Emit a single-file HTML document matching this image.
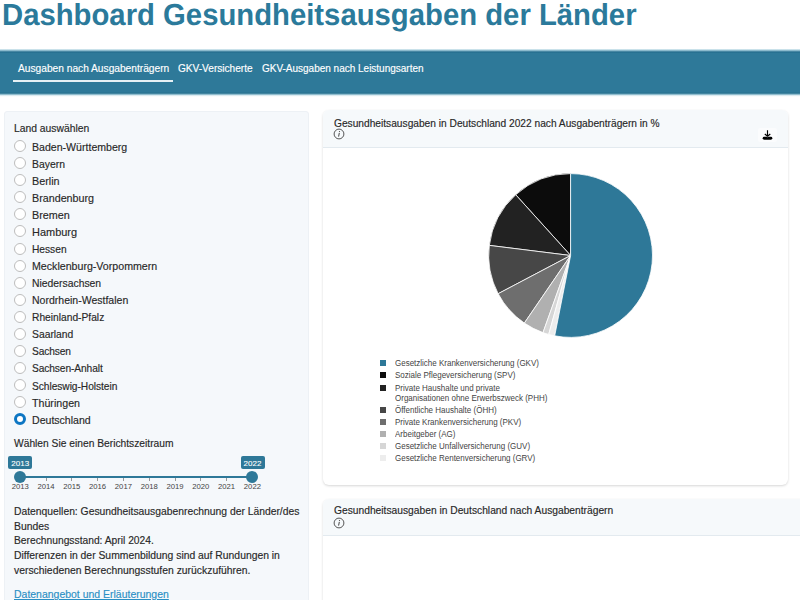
<!DOCTYPE html>
<html><head><meta charset="utf-8">
<style>
*{box-sizing:border-box;margin:0;padding:0}
html,body{width:800px;height:600px;overflow:hidden;background:#fff;font-family:"Liberation Sans",sans-serif;color:#222}
.abs{position:absolute;white-space:nowrap}
#title{left:2.3px;top:-1.4px;font-size:30.5px;font-weight:bold;color:#2b7a9b;line-height:32px;text-rendering:geometricPrecision;transform:scaleX(0.96);transform-origin:0 0}
#nav{position:absolute;left:0;top:49px;width:800px;height:48px;background:linear-gradient(to bottom,#eaf4f7 0px,#a9cfdd 1px,#6fa6bd 2px,#21698a 3px,#2e7999 4px,#2e7999 43px,#28718f 44px,#5f9bb3 45px,#c3dfe9 46px,#f4f7f8 47px,#fff 48px)}
.navi{position:absolute;top:13px;font-size:10px;color:#fff;line-height:14px;-webkit-text-stroke:0.15px #fff}
#uline{position:absolute;left:12.5px;top:31.3px;width:160.5px;height:2px;background:#e6f1f5}
#side{position:absolute;left:4px;top:111px;width:305px;height:520px;background:#f5f8fb;border:1px solid #edf1f5;border-radius:3px}
.t{position:absolute;font-size:10.2px;line-height:17px;white-space:nowrap;color:#282828;-webkit-text-stroke:0.15px #282828}
.radio{position:absolute;left:14px;width:12px;height:12px;border-radius:50%;border:1px solid #bdbdbd;background:#fff}
.radio.sel{border:3.3px solid #0d76c3;background:#fff}
.card{position:absolute;background:#fff;border-radius:6px;box-shadow:0 1px 2.5px rgba(0,0,0,0.16)}
.chead{position:absolute;left:0;top:0;right:0;background:#f6f9fb;border-bottom:1px solid #e3eaef;border-radius:6px 6px 0 0}
.info{position:absolute;width:10px;height:10px;border:1px solid #555;border-radius:50%;font-size:7px;font-style:italic;text-align:center;line-height:8px;color:#444}
.leg{position:absolute;font-size:9.2px;color:#444;line-height:10px;white-space:nowrap;transform:scale(0.87,1);transform-origin:0 0}
.sq{position:absolute;width:6px;height:6px}
.tick{position:absolute;top:483px;font-size:7.7px;color:#444;line-height:8px;width:30px;text-align:center}
</style></head><body>
<div id="title" class="abs">Dashboard Gesundheitsausgaben der Länder</div>
<div id="nav">
 <div class="navi" style="left:18px;font-size:10.2px;top:12.8px">Ausgaben nach Ausgabenträgern</div>
 <div class="navi" style="left:178px;font-size:10.1px">GKV-Versicherte</div>
 <div class="navi" style="left:262px;font-size:9.99px">GKV-Ausgaben nach Leistungsarten</div>
 <div id="uline"></div>
</div>

<div id="side"></div>
<div class="t" style="left:14px;top:120.3px;font-size:10.34px">Land auswählen</div>
<div class="radio" style="top:140.20px"></div><div class="t" style="left:32px;top:138.80px;font-size:10.59px;letter-spacing:0.000px">Baden-Württemberg</div><div class="radio" style="top:157.25px"></div><div class="t" style="left:32px;top:155.85px;font-size:10.40px;letter-spacing:0.000px">Bayern</div><div class="radio" style="top:174.30px"></div><div class="t" style="left:32px;top:172.90px;font-size:10.78px;letter-spacing:0.000px">Berlin</div><div class="radio" style="top:191.35px"></div><div class="t" style="left:32px;top:189.95px;font-size:10.74px;letter-spacing:0.000px">Brandenburg</div><div class="radio" style="top:208.40px"></div><div class="t" style="left:32px;top:207.00px;font-size:10.81px;letter-spacing:0.000px">Bremen</div><div class="radio" style="top:225.45px"></div><div class="t" style="left:32px;top:224.05px;font-size:10.97px;letter-spacing:0.000px">Hamburg</div><div class="radio" style="top:242.50px"></div><div class="t" style="left:32px;top:241.10px;font-size:10.20px;letter-spacing:0.000px">Hessen</div><div class="radio" style="top:259.55px"></div><div class="t" style="left:32px;top:258.15px;font-size:10.63px;letter-spacing:0.000px">Mecklenburg-Vorpommern</div><div class="radio" style="top:276.60px"></div><div class="t" style="left:32px;top:275.20px;font-size:10.36px;letter-spacing:0.000px">Niedersachsen</div><div class="radio" style="top:293.65px"></div><div class="t" style="left:32px;top:292.25px;font-size:10.53px;letter-spacing:0.000px">Nordrhein-Westfalen</div><div class="radio" style="top:310.70px"></div><div class="t" style="left:32px;top:309.30px;font-size:10.24px;letter-spacing:0.000px">Rheinland-Pfalz</div><div class="radio" style="top:327.75px"></div><div class="t" style="left:32px;top:326.35px;font-size:10.33px;letter-spacing:0.000px">Saarland</div><div class="radio" style="top:344.80px"></div><div class="t" style="left:32px;top:343.40px;font-size:10.20px;letter-spacing:-0.133px">Sachsen</div><div class="radio" style="top:361.85px"></div><div class="t" style="left:32px;top:360.45px;font-size:10.20px;letter-spacing:-0.092px">Sachsen-Anhalt</div><div class="radio" style="top:378.90px"></div><div class="t" style="left:32px;top:377.50px;font-size:10.20px;letter-spacing:-0.041px">Schleswig-Holstein</div><div class="radio" style="top:395.95px"></div><div class="t" style="left:32px;top:394.55px;font-size:10.67px;letter-spacing:0.000px">Thüringen</div><div class="radio sel" style="top:413.00px"></div><div class="t" style="left:32px;top:411.60px;font-size:10.57px;letter-spacing:0.000px">Deutschland</div>

<div class="t" style="left:14px;top:435px;font-size:10.26px">Wählen Sie einen Berichtszeitraum</div>

<!-- slider -->
<div style="position:absolute;left:8.2px;top:455.5px;width:24px;height:13.2px;background:#2e7898;border-radius:2px;color:#fff;font-size:8px;-webkit-text-stroke:0.1px #fff;line-height:15.5px;text-align:center">2013</div>
<div style="position:absolute;left:240.5px;top:455.5px;width:24px;height:13.2px;background:#2e7898;border-radius:2px;color:#fff;font-size:8px;-webkit-text-stroke:0.1px #fff;line-height:15.5px;text-align:center">2022</div>
<div style="position:absolute;left:20px;top:476px;width:232px;height:2px;background:#2e7898"></div>
<div class="tick" style="left:5.20px">2013</div><div style="position:absolute;left:19.70px;top:478px;width:1px;height:3px;background:#999"></div><div class="tick" style="left:31.00px">2014</div><div style="position:absolute;left:45.50px;top:478px;width:1px;height:3px;background:#999"></div><div class="tick" style="left:56.80px">2015</div><div style="position:absolute;left:71.30px;top:478px;width:1px;height:3px;background:#999"></div><div class="tick" style="left:82.60px">2016</div><div style="position:absolute;left:97.10px;top:478px;width:1px;height:3px;background:#999"></div><div class="tick" style="left:108.40px">2017</div><div style="position:absolute;left:122.90px;top:478px;width:1px;height:3px;background:#999"></div><div class="tick" style="left:134.20px">2018</div><div style="position:absolute;left:148.70px;top:478px;width:1px;height:3px;background:#999"></div><div class="tick" style="left:160.00px">2019</div><div style="position:absolute;left:174.50px;top:478px;width:1px;height:3px;background:#999"></div><div class="tick" style="left:185.80px">2020</div><div style="position:absolute;left:200.30px;top:478px;width:1px;height:3px;background:#999"></div><div class="tick" style="left:211.60px">2021</div><div style="position:absolute;left:226.10px;top:478px;width:1px;height:3px;background:#999"></div><div class="tick" style="left:237.40px">2022</div><div style="position:absolute;left:251.90px;top:478px;width:1px;height:3px;background:#999"></div>
<div style="position:absolute;left:14.1px;top:470.9px;width:12.2px;height:12.2px;border-radius:50%;background:#2e7898"></div>
<div style="position:absolute;left:246.3px;top:470.9px;width:12.2px;height:12.2px;border-radius:50%;background:#2e7898"></div>

<div class="t" style="left:14px;top:504.70px;line-height:14.85px;font-size:10.33px">Datenquellen: Gesundheitsausgabenrechnung der Länder/des</div>
<div class="t" style="left:14px;top:519.55px;line-height:14.85px;font-size:10.4px">Bundes</div>
<div class="t" style="left:14px;top:534.40px;line-height:14.85px;font-size:10.27px">Berechnungsstand: April 2024.</div>
<div class="t" style="left:14px;top:549.25px;line-height:14.85px;font-size:10.37px">Differenzen in der Summenbildung sind auf Rundungen in</div>
<div class="t" style="left:14px;top:564.10px;line-height:14.85px;font-size:10.39px">verschiedenen Berechnungsstufen zurückzuführen.</div>

<div class="t" style="left:14px;top:586px;font-size:10.47px;color:#2a8fc4;-webkit-text-stroke:0.15px #2a8fc4;text-decoration:underline">Datenangebot und Erläuterungen</div>

<!-- card 1 -->
<div class="card" style="left:323px;top:110px;width:464.5px;height:374.5px">
 <div class="chead" style="height:37.5px"></div>
</div>
<div class="t" style="left:334px;top:114.6px">Gesundheitsausgaben in Deutschland 2022 nach Ausgabenträgern in %</div>
<svg width="12" height="12" style="position:absolute;left:333px;top:128px" viewBox="0 0 12 12"><circle cx="6" cy="6" r="4.9" fill="none" stroke="#555" stroke-width="1"/><path d="M6.3,5 L5.6,8.6" stroke="#444" stroke-width="1"/><circle cx="6.5" cy="3.6" r="0.6" fill="#444"/></svg>
<div style="position:absolute;left:757.5px;top:128px;width:19px;height:13.5px;background:rgba(255,255,255,0.5);border-radius:2px"></div><svg width="12" height="12" style="position:absolute;left:762px;top:129px" viewBox="0 0 12 12"><path d="M5.5,1.3 V7 M2.8,5 L5.5,7.3 L8.3,5" stroke="#000" stroke-width="1.15" fill="none"/><rect x="0.7" y="7.8" width="9.6" height="2.9" rx="1.45" fill="#000"/><path d="M4.6,7.8 L5.5,8.5 L6.4,7.8Z" fill="#fff" opacity="0.5"/></svg>
<svg width="800" height="600" style="position:absolute;left:0;top:0"><path d="M570.60,255.50 L570.60,173.60 A81.9,81.9 0 0 0 515.69,194.73 Z" fill="#0c0c0c" stroke="#fff" stroke-width="0.8" stroke-linejoin="round"/><path d="M570.60,255.50 L515.69,194.73 A81.9,81.9 0 0 0 489.33,245.38 Z" fill="#222222" stroke="#fff" stroke-width="0.8" stroke-linejoin="round"/><path d="M570.60,255.50 L489.33,245.38 A81.9,81.9 0 0 0 498.15,293.70 Z" fill="#474747" stroke="#fff" stroke-width="0.8" stroke-linejoin="round"/><path d="M570.60,255.50 L498.15,293.70 A81.9,81.9 0 0 0 524.33,323.08 Z" fill="#6e6e6e" stroke="#fff" stroke-width="0.8" stroke-linejoin="round"/><path d="M570.60,255.50 L524.33,323.08 A81.9,81.9 0 0 0 542.99,332.61 Z" fill="#b0b0b0" stroke="#fff" stroke-width="0.8" stroke-linejoin="round"/><path d="M570.60,255.50 L542.99,332.61 A81.9,81.9 0 0 0 548.71,334.42 Z" fill="#d6d6d6" stroke="#fff" stroke-width="0.8" stroke-linejoin="round"/><path d="M570.60,255.50 L548.71,334.42 A81.9,81.9 0 0 0 554.69,335.84 Z" fill="#ededed" stroke="#fff" stroke-width="0.8" stroke-linejoin="round"/><path d="M570.60,255.50 L554.69,335.84 A81.9,81.9 0 1 0 570.60,173.60 Z" fill="#2e7898" stroke="#fff" stroke-width="0.8" stroke-linejoin="round"/></svg>
<div class="sq" style="left:379.5px;top:360.1px;background:#2e7898"></div><div class="leg" style="left:395px;top:358.06px">Gesetzliche Krankenversicherung (GKV)</div><div class="sq" style="left:379.5px;top:372.4px;background:#0c0c0c"></div><div class="leg" style="left:395px;top:370.36px">Soziale Pflegeversicherung (SPV)</div><div class="sq" style="left:379.5px;top:384.6px;background:#222222"></div><div class="leg" style="left:395px;top:382.56px">Private Haushalte und private<br>Organisationen ohne Erwerbszweck (PHH)</div><div class="sq" style="left:379.5px;top:407.0px;background:#474747"></div><div class="leg" style="left:395px;top:404.96px">Öffentliche Haushalte (ÖHH)</div><div class="sq" style="left:379.5px;top:418.9px;background:#6e6e6e"></div><div class="leg" style="left:395px;top:416.86px">Private Krankenversicherung (PKV)</div><div class="sq" style="left:379.5px;top:431.0px;background:#b0b0b0"></div><div class="leg" style="left:395px;top:428.96px">Arbeitgeber (AG)</div><div class="sq" style="left:379.5px;top:443.2px;background:#d6d6d6"></div><div class="leg" style="left:395px;top:441.16px">Gesetzliche Unfallversicherung (GUV)</div><div class="sq" style="left:379.5px;top:455.4px;background:#ededed"></div><div class="leg" style="left:395px;top:453.36px">Gesetzliche Rentenversicherung (GRV)</div>

<!-- card 2 -->
<div class="card" style="left:323px;top:498.5px;width:500px;height:200px">
 <div class="chead" style="height:37px"></div>
</div>
<div class="t" style="left:334px;top:502.3px;font-size:10.25px">Gesundheitsausgaben in Deutschland nach Ausgabenträgern</div>
<svg width="12" height="12" style="position:absolute;left:333px;top:516.7px" viewBox="0 0 12 12"><circle cx="6" cy="6" r="4.9" fill="none" stroke="#555" stroke-width="1"/><path d="M6.3,5 L5.6,8.6" stroke="#444" stroke-width="1"/><circle cx="6.5" cy="3.6" r="0.6" fill="#444"/></svg>

</body></html>
